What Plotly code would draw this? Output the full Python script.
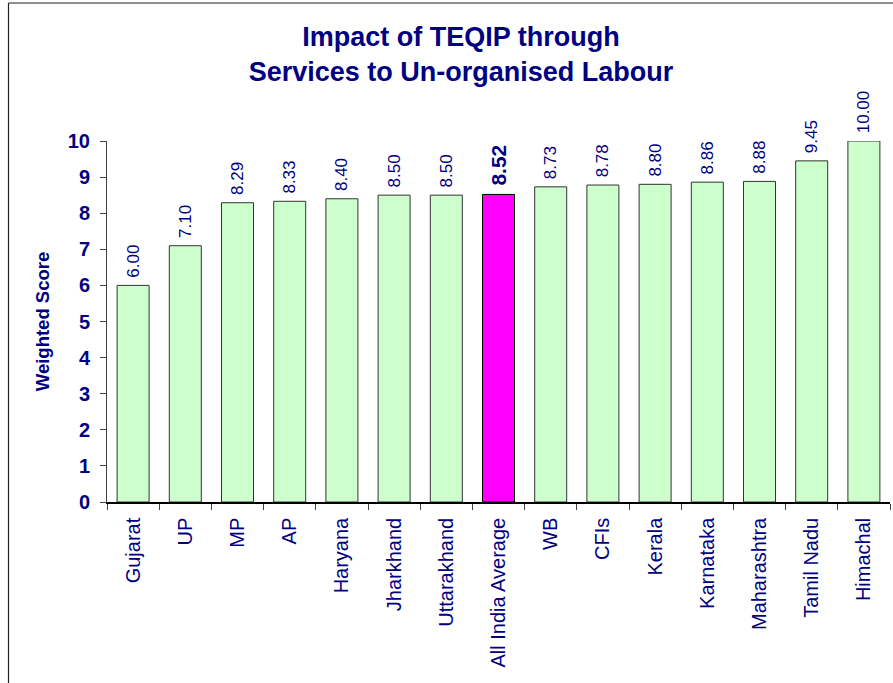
import plotly.graph_objects as go

categories = ["Gujarat", "UP", "MP", "AP", "Haryana", "Jharkhand", "Uttarakhand",
              "All India Average", "WB", "CFIs", "Kerala", "Karnataka", "Maharashtra",
              "Tamil Nadu", "Himachal"]
scores = [6.00, 7.10, 8.29, 8.33, 8.40, 8.50, 8.50, 8.52, 8.73, 8.78, 8.80, 8.86, 8.88, 9.45, 10.00]
highlight = "All India Average"
y_ticks = list(range(0, 11))

NAVY = "#000080"
FONT = "Arial, Liberation Sans, sans-serif"

W, H = 893, 683
L, R, T, B = 107, 3, 141, 181

colors = ["#FF00FF" if c == highlight else "#CCFFCC" for c in categories]
line_colors = ["#000000" if c == highlight else "#333333" for c in categories]
texts = ["\u00a0" + (f"<b>{v:.2f}</b>" if c == highlight else f"{v:.2f}") for c, v in zip(categories, scores)]
tsizes = [21 if c == highlight else 17 for c in categories]

fig = go.Figure(go.Bar(
    x=categories, y=scores,
    marker=dict(color=colors, line=dict(color=line_colors, width=1)),
    text=texts, textposition="outside", textangle=-90,
    textfont=dict(family=FONT, color=NAVY, size=tsizes),
    constraintext="none", cliponaxis=False,
    hoverinfo="skip",
))

pw = W - L - R
ph = H - T - B
def px_x(p):
    return (p - L) / pw
def px_y(p):
    return (H - B - p) / ph

fig.update_layout(
    width=W, height=H,
    margin=dict(l=L, r=R, t=T, b=B, autoexpand=False),
    paper_bgcolor="white", plot_bgcolor="white",
    bargap=0.387,
    showlegend=False,
    font=dict(family=FONT, color=NAVY),
    title=dict(
        text="<b>Impact of TEQIP through<br>Services to Un-organised Labour</b>",
        x=461 / W, xanchor="center", xref="container",
        y=1 - 46 / H, yanchor="top", yref="container",
        font=dict(family=FONT, size=27, color=NAVY),
    ),
    xaxis=dict(
        type="category", tickangle=-90, automargin=False,
        tickfont=dict(family=FONT, size=20, color=NAVY),
        ticklabelstandoff=6,
        showline=True, linecolor="black", linewidth=1.5,
        ticks="outside", ticklen=6, tickcolor="#404040", tickson="boundaries",
        showgrid=False, zeroline=False,
    ),
    yaxis=dict(
        range=[0, 10], tickvals=y_ticks, ticktext=[f"<b>{v}</b>" for v in y_ticks],
        automargin=False,
        tickfont=dict(family=FONT, size=20, color=NAVY),
        ticklabelstandoff=6,
        showline=True, linecolor="#404040", linewidth=1,
        ticks="outside", ticklen=6, tickcolor="#404040",
        showgrid=False, zeroline=False,
        title=dict(text="<b>Weighted Score</b>", font=dict(family=FONT, size=18.5, color=NAVY), standoff=13),
    ),
    shapes=[
        dict(type="line", xref="paper", yref="paper",
             x0=px_x(8.5), x1=px_x(8.5), y0=px_y(3), y1=px_y(720),
             line=dict(color="#202020", width=1.2)),
        dict(type="line", xref="paper", yref="paper",
             x0=px_x(8.5), x1=px_x(920), y0=px_y(3), y1=px_y(3),
             line=dict(color="#202020", width=1.2)),
    ],
)

fig.write_html("out.html", config={"displayModeBar": False},
               post_script="document.body.style.margin='0';document.body.style.overflow='hidden';")
